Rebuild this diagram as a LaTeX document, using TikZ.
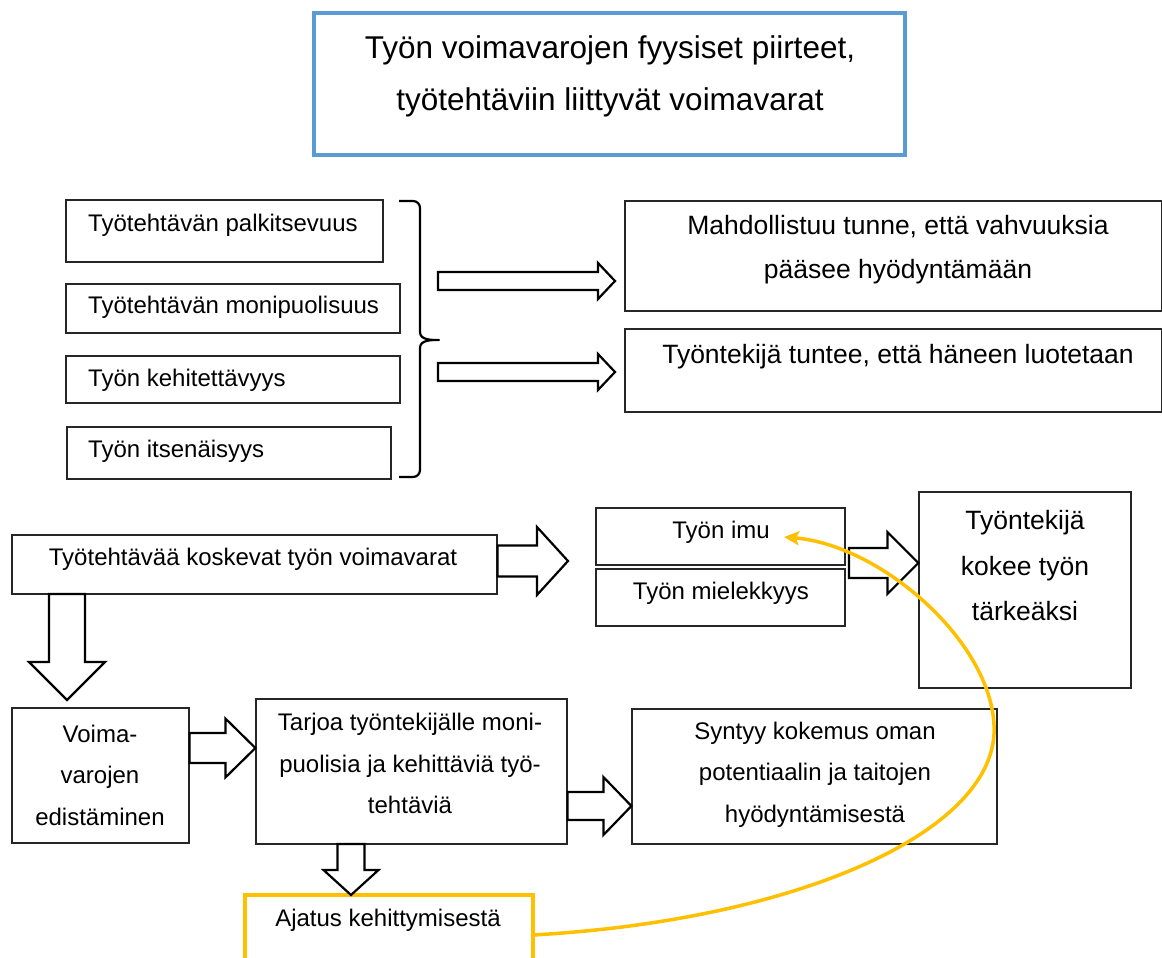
\documentclass[tikz,border=0pt]{standalone}
\usepackage{fontspec}
\setmainfont{Liberation Sans}
\usetikzlibrary{calc,arrows.meta}
\definecolor{frameblue}{HTML}{5B9BD5}
\definecolor{loopyellow}{HTML}{FFC000}
\newcommand\fsz[2]{\fontsize{#1}{#2}\selectfont}
% hollow block arrows: tail coordinate, tip coordinate, shaft half-width, head half-width, head length
\newcommand\rightblock[5]{%
  \draw[barrow] ($(#1)+(0,-#3)$) -- ($(#2)+(-#5,-#3)$) -- ($(#2)+(-#5,-#4)$) -- (#2)
    -- ($(#2)+(-#5,#4)$) -- ($(#2)+(-#5,#3)$) -- ($(#1)+(0,#3)$) -- cycle;}
\newcommand\downblock[5]{%
  \draw[barrow] ($(#1)+(-#3,0)$) -- ($(#2)+(-#3,-#5)$) -- ($(#2)+(-#4,-#5)$) -- (#2)
    -- ($(#2)+(#4,-#5)$) -- ($(#2)+(#3,-#5)$) -- ($(#1)+(#3,0)$) -- cycle;}
\begin{document}
\begin{tikzpicture}[x=1pt,y=-1pt,
  box/.style={draw=black!85, line width=1.2pt, inner sep=0pt, rectangle},
  txt/.style={inner sep=0pt, align=center, font=\fsz{24}{41.5}},
  bigtxt/.style={inner sep=0pt, align=center, font=\fsz{26.5}{44}},
  barrow/.style={draw=black, line width=2.2pt, fill=white, line join=miter},
  bracestyle/.style={draw=black, line width=2.2pt, line join=round},
  loop/.style={draw=loopyellow, line width=3.5pt,
    -{Stealth[length=15pt,width=14pt,inset=3pt]}}]
\clip (0,0) rectangle (1162,958);
\fill[white] (0,0) rectangle (1162,958);

% heading
\node[draw=frameblue, line width=4.5pt, minimum width=591pt, minimum height=142pt] (title) at (609.5,84) {};
\node[inner sep=0pt, align=center, font=\fsz{31.5}{52}] (titletxt) at (610,76)
  {Työn voimavarojen fyysiset piirteet,\\työtehtäviin liittyvät voimavarat};

% task features
\node[box, minimum width=317pt, minimum height=62pt] (b1) at (224.5,231) {};
\node[box, minimum width=334pt, minimum height=49pt] (b2) at (233,308.5) {};
\node[box, minimum width=334pt, minimum height=47pt] (b3) at (233,379.5) {};
\node[box, minimum width=324pt, minimum height=52pt] (b4) at (229,453) {};
\node[txt, anchor=west] (b1t) at (88,225) {Työtehtävän palkitsevuus};
\node[txt, anchor=west] (b2t) at (88,307) {Työtehtävän monipuolisuus};
\node[txt, anchor=west] (b3t) at (88,380) {Työn kehitettävyys};
\node[txt, anchor=west] (b4t) at (88,451) {Työn itsenäisyys};

% brace grouping the four features
\coordinate (brtop) at (399,201);
\coordinate (brtip) at (439,340);
\coordinate (brbot) at (399,477);
\draw[bracestyle] (brtop) -- (413,201) to[out=0,in=90] (420,208) -- (420,332)
  to[out=-90,in=180] (brtip) to[out=180,in=90] (420,348) -- (420,470)
  to[out=-90,in=0] (413,477) -- (brbot);

% outcomes
\node[box, minimum width=537pt, minimum height=110pt] (r1) at (893.5,256) {};
\node[box, minimum width=537pt, minimum height=83pt] (r2) at (893.5,370.5) {};
\node[bigtxt] (r1t) at (898,250) {Mahdollistuu tunne, että vahvuuksia\\pääsee hyödyntämään};
\node[bigtxt] (r2t) at (898,357) {Työntekijä tuntee, että häneen luotetaan};

\coordinate (a1s) at (438,281);
\coordinate (a1e) at (615,281);
\coordinate (a2s) at (438,372);
\coordinate (a2e) at (615,372);
\rightblock{a1s}{a1e}{9}{18}{17}
\rightblock{a2s}{a2e}{9}{18}{17}

% task-related resources
\node[box, minimum width=485pt, minimum height=59pt] (kosk) at (254.5,564.5) {};
\node[txt] (koskt) at (253,559) {Työtehtävää koskevat työn voimavarat};

\node[box, minimum width=249pt, minimum height=57pt] (imu) at (720.5,536.5) {};
\node[box, minimum width=249pt, minimum height=57pt] (miel) at (720.5,597.5) {};
\node[txt] (imut) at (721,532) {Työn imu};
\node[txt] (mielt) at (721,593) {Työn mielekkyys};

\node[box, minimum width=212pt, minimum height=196pt] (tark) at (1025,590) {};
\node[bigtxt, font=\fsz{26.5}{45.5}] (tarkt) at (1025,566) {Työntekijä\\kokee työn\\tärkeäksi};

\coordinate (a3s) at (kosk.east |- 0,561);
\coordinate (a3e) at (568,561);
\rightblock{a3s}{a3e}{15.5}{34}{31}
\coordinate (a5s) at (849,563);
\coordinate (a5e) at (tark.west |- 0,563);
\rightblock{a5s}{a5e}{15}{31}{31}
\coordinate (a4s) at (67,594);
\coordinate (a4e) at (67,700);
\downblock{a4s}{a4e}{18}{38}{38}

% promotion of resources
\node[box, minimum width=177pt, minimum height=135pt] (voima) at (100.5,775.5) {};
\node[txt] (voimat) at (100,775) {Voima-\\varojen\\edistäminen};

\node[box, minimum width=311pt, minimum height=145pt] (tarjoa) at (411.5,771.5) {};
\node[txt] (tarjoat) at (410,763.5) {Tarjoa työntekijälle moni-\\puolisia ja kehittäviä työ-\\tehtäviä};

\node[box, minimum width=365pt, minimum height=135pt] (syntyy) at (814.5,776.5) {};
\node[txt] (syntyyt) at (815,774.5) {Syntyy kokemus oman\\potentiaalin ja taitojen\\hyödyntämisestä};

\coordinate (a6s) at (voima.east |- 0,748);
\coordinate (a6e) at (tarjoa.west |- 0,748);
\rightblock{a6s}{a6e}{15}{29.5}{30}
\coordinate (a7s) at (tarjoa.east |- 0,806);
\coordinate (a7e) at (syntyy.west |- 0,806);
\rightblock{a7s}{a7e}{14}{29}{28}

% development idea
\node[draw=loopyellow, line width=4pt, inner sep=0pt, minimum width=288pt, minimum height=100pt] (ajatus) at (389,945) {};
\node[txt] (ajatust) at (388,920) {Ajatus kehittymisestä};
\coordinate (a8s) at (351,844);
\coordinate (a8e) at (351,895);
\downblock{a8s}{a8e}{13.5}{27.5}{25}

% feedback loop back to work engagement
\coordinate (loopstart) at (533,935);
\coordinate (loopend) at (784,537);
\draw[loop] (loopstart) .. controls (800,920) and (1000,830) .. (994,725)
  .. controls (990,640) and (880,545) .. (loopend);
\end{tikzpicture}
\end{document}
